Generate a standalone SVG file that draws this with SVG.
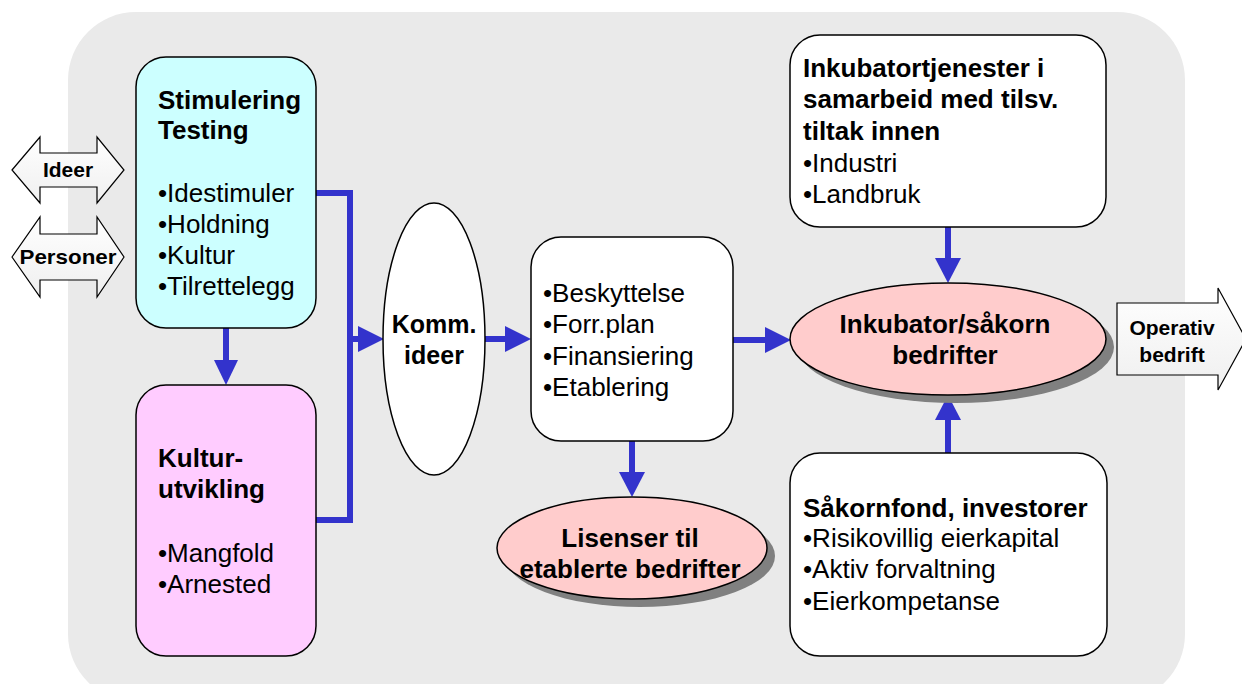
<svg xmlns="http://www.w3.org/2000/svg" width="1242" height="684" viewBox="0 0 1242 684">
<defs>
<linearGradient id="ag" x1="0" y1="0" x2="0" y2="1">
<stop offset="0" stop-color="#FFFFFF"/>
<stop offset="1" stop-color="#EFEFEF"/>
</linearGradient>
</defs>
<style>
.box{stroke:#000;stroke-width:1.5}
.t{font-family:"Liberation Sans",Arial,sans-serif;font-size:26px;fill:#000}
.b{font-weight:bold}
.m{text-anchor:middle}
.sh{fill:#808080}
.conn{stroke:#3333CC;stroke-width:6;fill:none}
.ah{fill:#3333CC}
.ba{fill:url(#ag);stroke:#000;stroke-width:1.2}
</style>
<rect x="68" y="12" width="1117" height="690" rx="68" ry="68" fill="#EAEAEA"/>

<g id="ideer">
<polygon class="ba" points="12,170 40,137 40,153 97,153 97,137 124,170 97,203 97,187 40,187 40,203"/>
<text class="t b m" x="68" y="177" style="font-size:21px">Ideer</text>
</g>
<g id="personer">
<polygon class="ba" points="12,257 40,217 40,234 97,234 97,217 124,257 97,297 97,280 40,280 40,297"/>
<text class="t b m" x="68" y="264" style="font-size:21px" textLength="97" lengthAdjust="spacingAndGlyphs">Personer</text>
</g>

<g id="connectors">
<line class="conn" x1="226" y1="328" x2="226" y2="362"/>
<polygon class="ah" points="214,360 238,360 226,385"/>
<polyline class="conn" points="316,193 350,193 350,520 316,520"/>
<line class="conn" x1="350" y1="339" x2="360" y2="339"/>
<polygon class="ah" points="358,326 358,352 384,339"/>
<line class="conn" x1="485" y1="339" x2="507" y2="339"/>
<polygon class="ah" points="505,326 505,352 531,339"/>
<line class="conn" x1="733" y1="340" x2="767" y2="340"/>
<polygon class="ah" points="765,327 765,353 791,340"/>
<line class="conn" x1="632" y1="441" x2="632" y2="474"/>
<polygon class="ah" points="619,472 645,472 632,497"/>
<line class="conn" x1="948" y1="227" x2="948" y2="260"/>
<polygon class="ah" points="935,258 961,258 948,283"/>
<line class="conn" x1="948" y1="453" x2="948" y2="418"/>
<polygon class="ah" points="935,420 961,420 948,395"/>
</g>

<g id="stimulering">
<rect class="box" x="136" y="57" width="180" height="271" rx="30" fill="#CCFFFF"/>
<text class="t b" x="158" y="109">Stimulering</text>
<text class="t b" x="158" y="139">Testing</text>
<text class="t" x="158" y="202">•Idestimuler</text>
<text class="t" x="158" y="233">•Holdning</text>
<text class="t" x="158" y="264">•Kultur</text>
<text class="t" x="158" y="295">•Tilrettelegg</text>
</g>

<g id="kultur">
<rect class="box" x="136" y="385" width="180" height="271" rx="30" fill="#FFCCFF"/>
<text class="t b" x="158" y="467">Kultur-</text>
<text class="t b" x="158" y="498">utvikling</text>
<text class="t" x="158" y="562">•Mangfold</text>
<text class="t" x="158" y="593">•Arnested</text>
</g>

<g id="komm">
<ellipse class="box" cx="434" cy="339" rx="51" ry="136" fill="#FFFFFF"/>
<text class="t b m" x="434" y="333" style="font-size:25px">Komm.</text>
<text class="t b m" x="434" y="364" style="font-size:25px">ideer</text>
</g>

<g id="prosess">
<rect class="box" x="531" y="237" width="202" height="204" rx="30" fill="#FFFFFF"/>
<text class="t" x="543" y="302">•Beskyttelse</text>
<text class="t" x="543" y="333">•Forr.plan</text>
<text class="t" x="543" y="365">•Finansiering</text>
<text class="t" x="543" y="396">•Etablering</text>
</g>

<g id="lisenser">
<ellipse class="sh" cx="640" cy="556" rx="135" ry="51"/>
<ellipse class="box" cx="632" cy="548" rx="135" ry="51" fill="#FFCCCC"/>
<text class="t b m" x="630" y="547">Lisenser til</text>
<text class="t b m" x="630" y="578">etablerte bedrifter</text>
</g>

<g id="inkubator">
<ellipse class="sh" cx="956" cy="347" rx="158" ry="56"/>
<ellipse class="box" cx="948" cy="339" rx="158" ry="56" fill="#FFCCCC"/>
<text class="t b m" x="945" y="333">Inkubator/såkorn</text>
<text class="t b m" x="945" y="364">bedrifter</text>
</g>

<g id="tjenester">
<rect class="box" x="790" y="35" width="316" height="192" rx="30" fill="#FFFFFF"/>
<text class="t b" x="803" y="77">Inkubatortjenester i</text>
<text class="t b" x="803" y="108">samarbeid med tilsv.</text>
<text class="t b" x="803" y="140">tiltak innen</text>
<text class="t" x="803" y="172">•Industri</text>
<text class="t" x="803" y="203">•Landbruk</text>
</g>

<g id="sakornfond">
<rect class="box" x="790" y="453" width="317" height="203" rx="30" fill="#FFFFFF"/>
<text class="t b" x="803" y="517">Såkornfond, investorer</text>
<text class="t" x="803" y="547">•Risikovillig eierkapital</text>
<text class="t" x="803" y="578">•Aktiv forvaltning</text>
<text class="t" x="803" y="610">•Eierkompetanse</text>
</g>

<g id="operativ">
<polygon class="ba" points="1117,303 1218,303 1218,288 1246,339 1218,390 1218,375 1117,375"/>
<text class="t b m" x="1172" y="335" style="font-size:21px">Operativ</text>
<text class="t b m" x="1172" y="362" style="font-size:21px">bedrift</text>
</g>
</svg>
